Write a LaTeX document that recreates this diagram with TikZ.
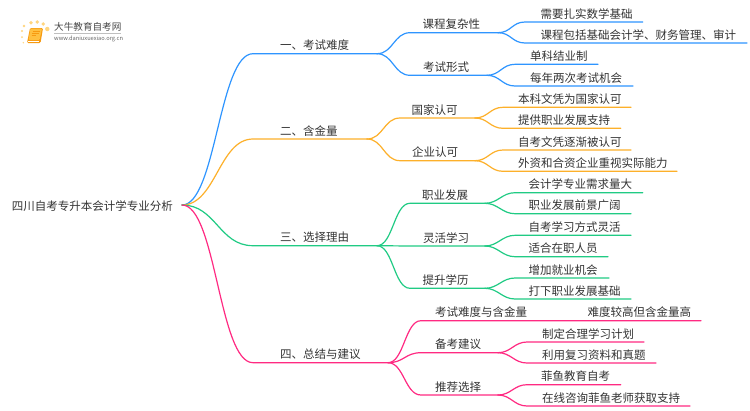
\documentclass[tikz,border=0pt]{standalone}
\usepackage{fontspec}
\setmainfont{Noto Sans CJK SC}
\usetikzlibrary{calc}
\definecolor{cblue}{HTML}{2E95FF}
\definecolor{corange}{HTML}{FDB02A}
\definecolor{cgreen}{HTML}{20CB84}
\definecolor{cpink}{HTML}{FF2A82}
\definecolor{ctext}{HTML}{333333}
\definecolor{dot}{HTML}{FFD680}
\definecolor{bookA}{HTML}{F79A10}
\definecolor{bookB}{HTML}{FFC040}
\tikzset{
  label/.style={font=\fontsize{11.5pt}{12pt}\selectfont,text=ctext,anchor=base west,inner sep=0pt,outer sep=0pt},
  link/.style={line width=1.2pt,line cap=round,line join=round},
  logodot/.style={fill=dot,draw=none,circle,inner sep=0pt},
}
% \branch{parent}{name}{start x}{end x}{line y}{text x}{text}{colour}{bend}
\newcommand{\branch}[9]{%
  \coordinate (#2s) at (#3,#5);
  \coordinate (#2) at (#4,#5);
  \node[label] (#2t) at (#6,#5-3.8) {#7};
  \draw[link,#8] (#1) .. controls ($(#1)+(#9,0)$) and ($(#2s)-(#9,0)$) .. (#2s) -- (#2);
}
\begin{document}
\begin{tikzpicture}[x=1pt,y=-1pt]
\useasboundingbox (0,0) rectangle (750,410);
\fill[white] (0,0) rectangle (750,410);
% logo
\foreach \a/\b/\r in {24/26/1.4,31/22.7/1.8,37.3/22/1.9,43.3/24/1.9,47.3/29/2.2,22/31/1.2,22/37/1.0,23.3/42.7/0.8}
  \node[logodot,minimum size=2*\r pt] at (\a,\b) {};
\fill[rounded corners=1.2pt,bookA] (30,28) -- (43,28) -- (40.5,43) -- (27,43) -- cycle;
\fill[rounded corners=1pt,bookB] (30.5,28.5) -- (42,28.5) -- (39.5,40) -- (28.5,40) -- cycle;
\draw[white,line width=.6pt] (28,41.3) -- (39,41.3);
\draw[bookA,line width=.6pt] (32.5,31.5) -- (39.5,31.5) (32,33.5) -- (39,33.5) (31.5,35.5) -- (36,35.5);
\node[font=\fontsize{9.6pt}{10pt}\selectfont,text=black!72,anchor=west,inner sep=0pt] (logot) at (54,27.3) {大牛教育自考网};
\draw[black!25,line width=.5pt] (54,33.3) -- (121,33.3);
\node[font=\fontsize{5.7pt}{6pt}\selectfont,text=black!60,anchor=west,inner sep=0pt] (logou) at (54,38.8) {www.daniuxuexiao.org.cn};
% root
\node[label,anchor=base west] (roott) at (12,210) {四川自考专升本会计学专业分析};
\coordinate (root) at (182,205);
% blue
\branch{root}{a}{253}{377}{53.7}{280}{一、考试难度}{cblue}{34}
\branch{a}{a1}{410}{498}{32.7}{422.7}{课程复杂性}{cblue}{16}
\branch{a1}{a11}{525}{642.7}{22}{540.7}{需要扎实数学基础}{cblue}{13}
\branch{a1}{a12}{525}{747}{43}{540.7}{课程包括基础会计学、财务管理、审计}{cblue}{13}
\branch{a}{a2}{410}{487}{75.3}{423}{考试形式}{cblue}{16}
\branch{a2}{a21}{515}{598}{64.3}{530}{单科结业制}{cblue}{13}
\branch{a2}{a22}{515}{633}{86}{530}{每年两次考试机会}{cblue}{13}
% orange
\branch{root}{b}{253}{367}{139}{280}{二、含金量}{corange}{34}
\branch{b}{b1}{400}{475}{118}{411.5}{国家认可}{corange}{16}
\branch{b1}{b11}{503}{631}{107.3}{518}{本科文凭为国家认可}{corange}{13}
\branch{b1}{b12}{503}{620.7}{128.3}{518}{提供职业发展支持}{corange}{13}
\branch{b}{b2}{400}{475}{160.7}{412}{企业认可}{corange}{16}
\branch{b2}{b21}{503}{631}{150}{518}{自考文凭逐渐被认可}{corange}{13}
\branch{b2}{b22}{503}{677}{171.3}{518}{外资和合资企业重视实际能力}{corange}{13}
% green
\branch{root}{c}{253}{377}{245.7}{280}{三、选择理由}{cgreen}{34}
\branch{c}{c1}{410}{485}{203.3}{422}{职业发展}{cgreen}{16}
\branch{c1}{c11}{515}{642.7}{192.7}{528.5}{会计学专业需求量大}{cgreen}{13}
\branch{c1}{c12}{515}{631}{213.7}{528.5}{职业发展前景广阔}{cgreen}{13}
\branch{c}{c2}{410}{485}{246}{423}{灵活学习}{cgreen}{16}
\branch{c2}{c21}{515}{631}{235.3}{528.5}{自考学习方式灵活}{cgreen}{13}
\branch{c2}{c22}{515}{608}{256.7}{528.5}{适合在职人员}{cgreen}{13}
\branch{c}{c3}{410}{485}{288.3}{422.7}{提升学历}{cgreen}{16}
\branch{c3}{c31}{515}{609}{278}{528.5}{增加就业机会}{cgreen}{13}
\branch{c3}{c32}{515}{631}{299}{528.5}{打下职业发展基础}{cgreen}{13}
% pink
\branch{root}{d}{253}{388}{362.7}{280}{四、总结与建议}{cpink}{34}
\branch{d}{d1}{421}{701}{320.7}{435}{考试难度与含金量}{cpink}{16}
\node[label] (d1x) at (587.7,316.9) {难度较高但含金量高};
\branch{d}{d2}{421}{498}{352.7}{435}{备考建议}{cpink}{16}
\branch{d2}{d21}{527}{644}{342}{542}{制定合理学习计划}{cpink}{13}
\branch{d2}{d22}{527}{656}{363}{542}{利用复习资料和真题}{cpink}{13}
\branch{d}{d3}{421}{498}{395}{435}{推荐选择}{cpink}{16}
\branch{d3}{d31}{527}{620.7}{384.7}{541}{菲鱼教育自考}{cpink}{13}
\branch{d3}{d32}{527}{690}{406}{542}{在线咨询菲鱼老师获取支持}{cpink}{13}
\end{tikzpicture}
\end{document}
